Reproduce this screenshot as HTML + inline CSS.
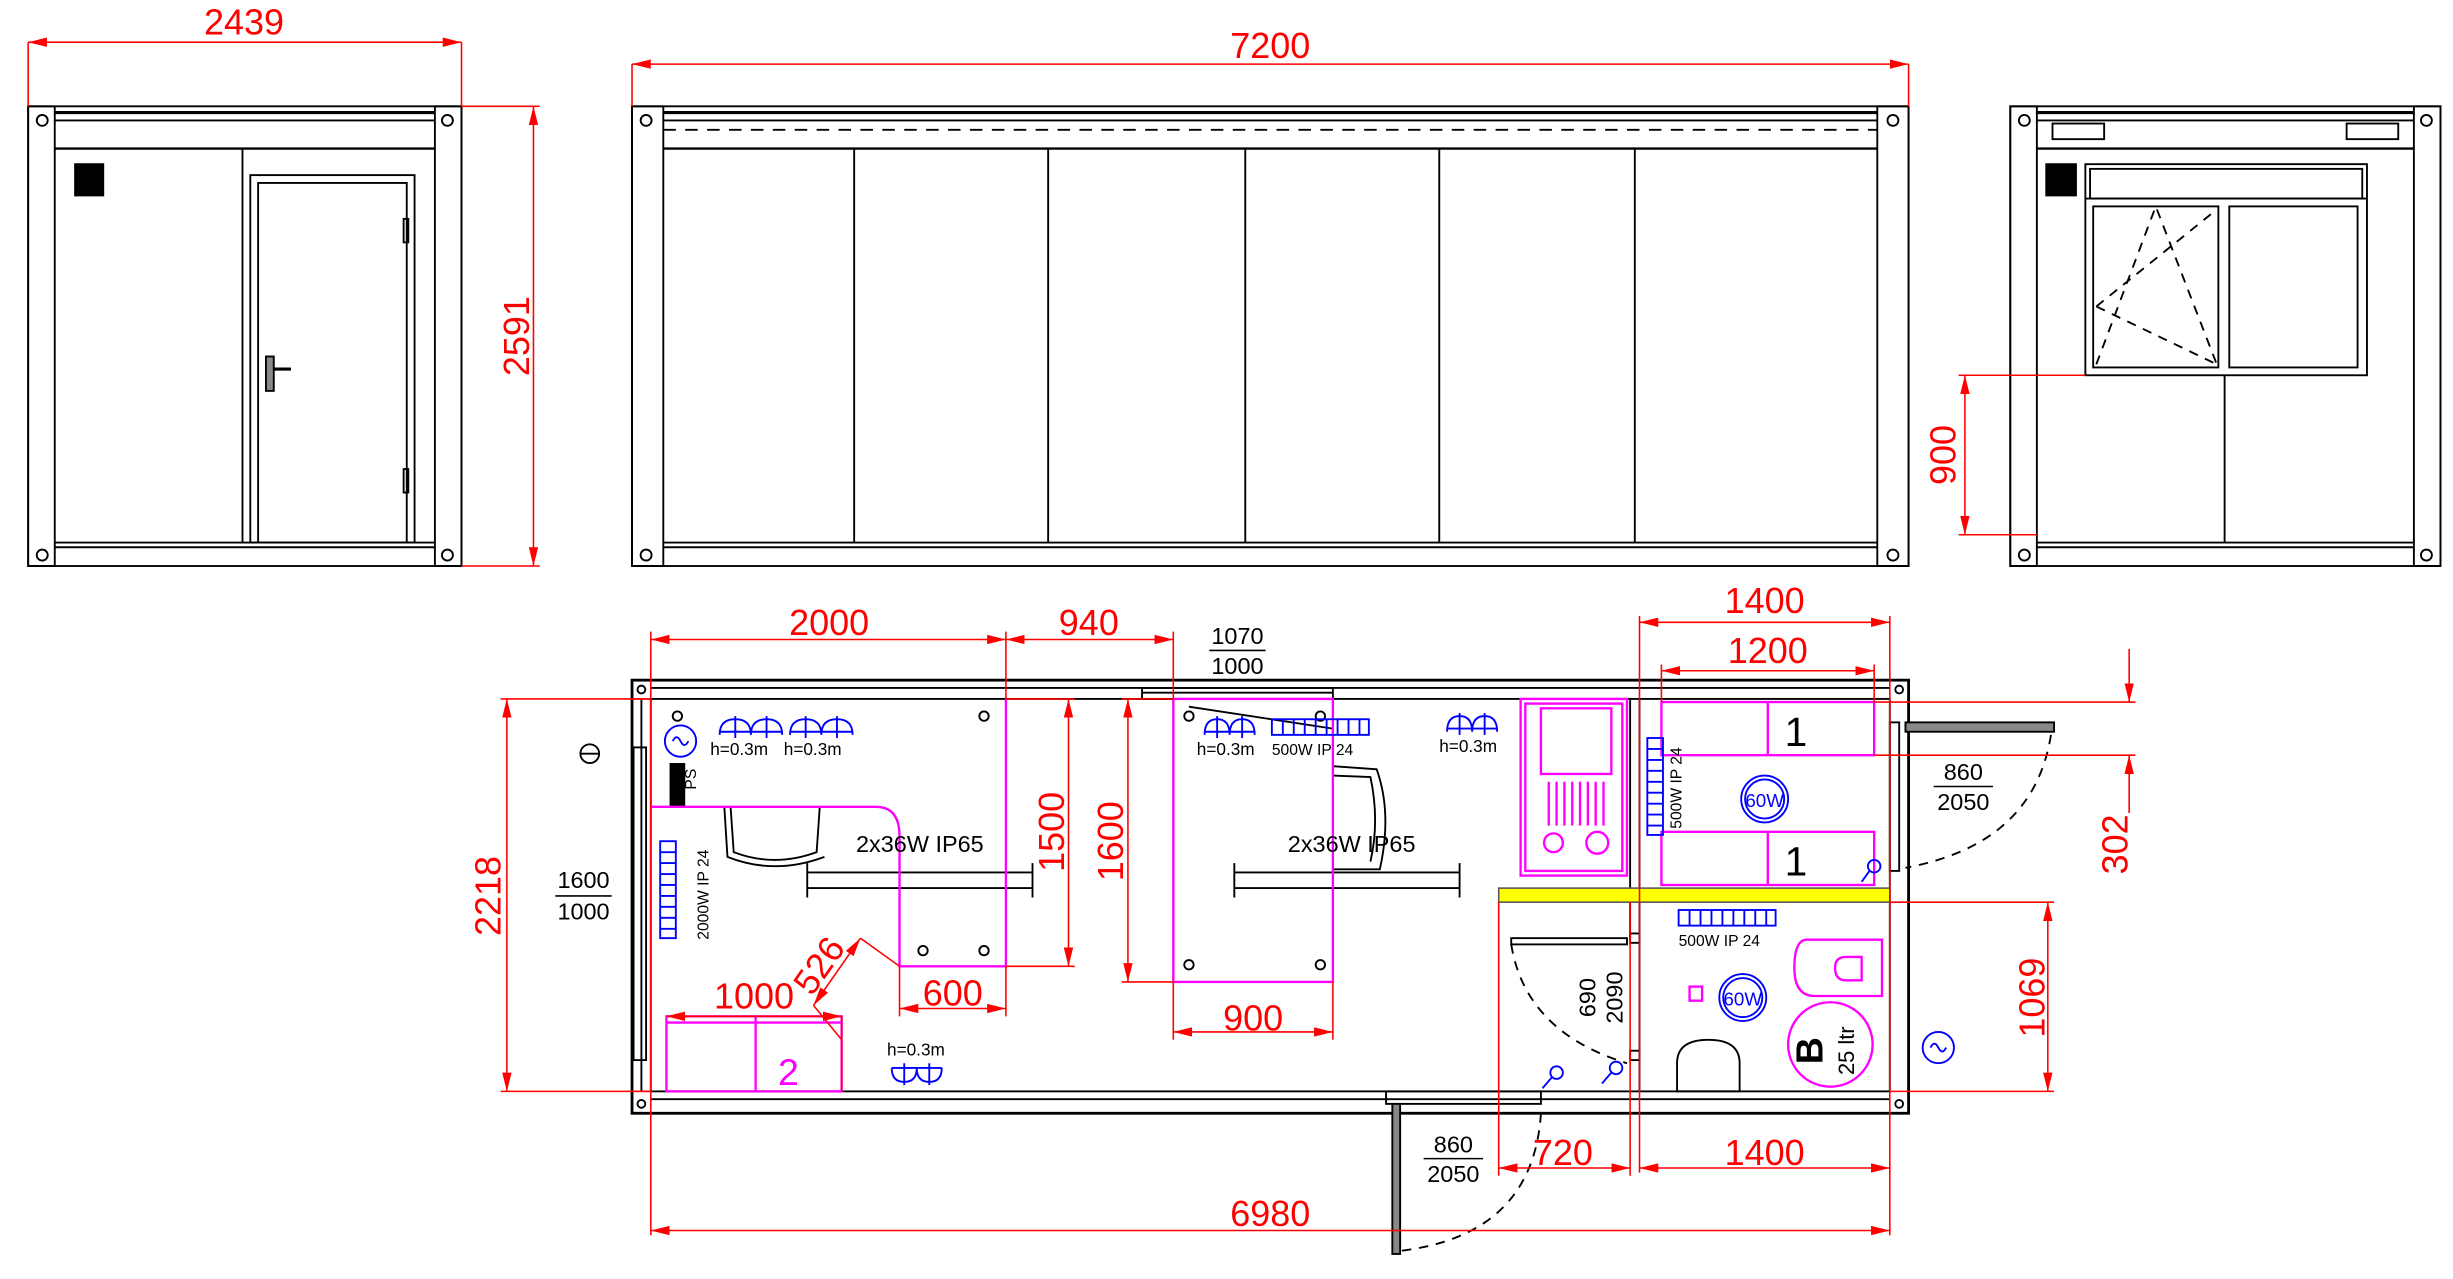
<!DOCTYPE html>
<html><head><meta charset="utf-8"><style>
html,body{margin:0;padding:0;background:#fff;width:2453px;height:1279px;overflow:hidden}
svg{display:block}
text{font-family:"Liberation Sans",sans-serif}
</style></head><body>
<svg width="2453" height="1279" viewBox="0 0 1568 818" preserveAspectRatio="none" xmlns="http://www.w3.org/2000/svg">
<defs>
<marker id="a" viewBox="0 0 12 6" refX="12" refY="3" markerWidth="12" markerHeight="6" markerUnits="userSpaceOnUse" orient="auto-start-reverse"><path d="M0,0L12,3L0,6Z" fill="#f00"/></marker>
</defs>
<g fill="none" stroke="#000" stroke-width="1.2">
<rect x="18" y="68" width="277" height="294"/>
<rect x="18" y="68" width="17" height="294"/><rect x="278" y="68" width="17" height="294"/>
<line x1="35" y1="72" x2="278" y2="72" stroke-width="2"/><line x1="35" y1="77" x2="278" y2="77"/>
<line x1="35" y1="95" x2="278" y2="95" stroke-width="1.5"/>
<line x1="35" y1="347" x2="278" y2="347"/><line x1="35" y1="350" x2="278" y2="350"/>
<line x1="155" y1="95" x2="155" y2="347"/>
<rect x="160" y="112" width="105" height="235"/><rect x="165" y="117" width="95" height="230"/>
<rect x="258" y="140" width="3" height="15"/><rect x="258" y="300" width="3" height="15"/>
<rect x="170" y="228" width="5" height="22" fill="#888"/><line x1="175" y1="236" x2="186" y2="236" stroke-width="2"/>
<rect x="48" y="105" width="18" height="20" fill="#000"/>
<circle cx="27" cy="77" r="3.5"/><circle cx="286" cy="77" r="3.5"/><circle cx="27" cy="355" r="3.5"/><circle cx="286" cy="355" r="3.5"/>
<rect x="404" y="68" width="816" height="294"/>
<rect x="404" y="68" width="20" height="294"/><rect x="1200" y="68" width="20" height="294"/>
<line x1="424" y1="72" x2="1200" y2="72" stroke-width="2"/><line x1="424" y1="77" x2="1200" y2="77"/>
<line x1="424" y1="83" x2="1200" y2="83" stroke-dasharray="8,6"/>
<line x1="424" y1="95" x2="1200" y2="95" stroke-width="1.5"/>
<line x1="424" y1="347" x2="1200" y2="347"/><line x1="424" y1="350" x2="1200" y2="350"/>
<line x1="546" y1="95" x2="546" y2="347"/><line x1="670" y1="95" x2="670" y2="347"/><line x1="796" y1="95" x2="796" y2="347"/><line x1="920" y1="95" x2="920" y2="347"/><line x1="1045" y1="95" x2="1045" y2="347"/>
<circle cx="413" cy="77" r="3.5"/><circle cx="1210" cy="77" r="3.5"/><circle cx="413" cy="355" r="3.5"/><circle cx="1210" cy="355" r="3.5"/>
<rect x="1285" y="68" width="275" height="294"/>
<rect x="1285" y="68" width="17" height="294"/><rect x="1543" y="68" width="17" height="294"/>
<line x1="1302" y1="72" x2="1543" y2="72" stroke-width="2"/><line x1="1302" y1="77" x2="1543" y2="77"/>
<line x1="1302" y1="95" x2="1543" y2="95" stroke-width="1.5"/>
<rect x="1312" y="79" width="33" height="10"/><rect x="1500" y="79" width="33" height="10"/>
<rect x="1308" y="105" width="19" height="20" fill="#000"/>
<rect x="1333" y="105" width="180" height="135"/><rect x="1336" y="108" width="174" height="19"/>
<line x1="1333" y1="127" x2="1513" y2="127"/>
<rect x="1338" y="132" width="80" height="103"/><rect x="1425" y="132" width="82" height="103"/>
<path d="M1340,233L1378,132L1417,233M1340,196L1417,134M1340,196L1417,233" stroke-dasharray="6,5"/>
<line x1="1422" y1="240" x2="1422" y2="347"/>
<line x1="1302" y1="347" x2="1543" y2="347"/><line x1="1302" y1="350" x2="1543" y2="350"/>
<circle cx="1294" cy="77" r="3.5"/><circle cx="1551" cy="77" r="3.5"/><circle cx="1294" cy="355" r="3.5"/><circle cx="1551" cy="355" r="3.5"/>
<rect x="404" y="435" width="816" height="277" stroke-width="1.8"/>
<rect x="416" y="447" width="792" height="251"/>
<line x1="416" y1="440" x2="1208" y2="440"/><line x1="416" y1="703" x2="1208" y2="703"/>
<line x1="410" y1="447" x2="410" y2="698"/>
<rect x="730" y="440" width="122" height="7"/>
<line x1="730" y1="443" x2="852" y2="443"/>
<line x1="760" y1="452" x2="852" y2="466"/>
<circle cx="410" cy="441" r="2.5"/><circle cx="1214" cy="441" r="2.5"/><circle cx="410" cy="706" r="2.5"/><circle cx="1214" cy="706" r="2.5"/>
<line x1="1048" y1="447" x2="1048" y2="568"/><line x1="1042" y1="447" x2="1042" y2="568"/>
<line x1="1042" y1="577" x2="1042" y2="600"/><line x1="1048" y1="577" x2="1048" y2="698"/>
<rect x="1042" y="597" width="6" height="6"/><rect x="1042" y="672" width="6" height="6"/>
<rect x="966" y="600" width="74" height="4"/>
<path d="M966,604 Q975,660 1040,680" stroke-dasharray="6,5"/>
<rect x="1208" y="462" width="6" height="95"/>
<rect x="1218" y="462" width="95" height="6" fill="#888"/>
<path d="M1311,470 Q1300,540 1218,555" stroke-dasharray="6,5"/>
<rect x="886" y="698" width="99" height="8"/>
<rect x="890" y="706" width="5" height="96" fill="#888"/>
<path d="M985,712 Q980,790 895,800" stroke-dasharray="6,5"/>
<rect x="405" y="478" width="8" height="200"/>
<path d="M467,516L469,545Q495,555 522,545L524,516M463,516L465,548Q495,560 527,548"/>
<path d="M852,490L880,492Q890,520 882,556L852,556M852,496L876,497Q882,525 876,551"/>
<path d="M516,558H660M516,568H660M516,552V574M660,552V574"/>
<path d="M789,558H933M789,568H933M789,552V574M933,552V574"/>
<circle cx="629" cy="458" r="3"/><circle cx="590" cy="608" r="3"/><circle cx="629" cy="608" r="3"/>
<circle cx="760" cy="458" r="3"/><circle cx="844" cy="458" r="3"/><circle cx="760" cy="617" r="3"/><circle cx="844" cy="617" r="3"/>
<circle cx="433" cy="458" r="3"/>
<path d="M1072,698V680Q1072,665 1092,665Q1112,665 1112,680V698Z"/>
<circle cx="377" cy="482" r="6"/><line x1="371" y1="482" x2="383" y2="482"/>
</g>
<rect x="428" y="488" width="10" height="28" fill="#000"/>
<text x="440" y="510" font-size="10" transform="rotate(-90 440 505)">PS</text>
<rect x="958" y="568" width="250" height="9" fill="#ff0" stroke="#555" stroke-width="1"/>
<g fill="none" stroke="#f0f" stroke-width="1.5">
<path d="M416,516H560Q575,516 575,535V618H643V447"/>
<rect x="750" y="447" width="102" height="181"/>
<rect x="972" y="447" width="68" height="113"/><rect x="975" y="450" width="62" height="107"/>
<rect x="985" y="453" width="45" height="42"/>
<path d="M990,500V528M995,500V528M1000,500V528M1005,500V528M1010,500V528M1015,500V528M1020,500V528M1025,500V528"/>
<circle cx="993" cy="539" r="6"/><circle cx="1021" cy="539" r="7"/>
<rect x="1062" y="449" width="136" height="34"/><line x1="1130" y1="449" x2="1130" y2="483"/>
<rect x="1062" y="532" width="136" height="34"/><line x1="1130" y1="532" x2="1130" y2="566"/>
<rect x="426" y="650" width="112" height="48"/><line x1="426" y1="654" x2="538" y2="654"/><line x1="483" y1="650" x2="483" y2="698"/>
<path d="M1203,601H1155Q1147,601 1147,619Q1147,637 1160,637H1203Z"/>
<path d="M1190,612H1180Q1173,612 1173,619Q1173,627 1180,627H1190Z"/>
<circle cx="1170" cy="668" r="27"/>
<rect x="1080" y="631" width="8" height="9"/>
</g>
<text x="504" y="694" font-size="24" fill="#f0f" text-anchor="middle">2</text>
<g fill="none" stroke="#00f" stroke-width="1.2">
<circle cx="435" cy="474" r="10"/><path d="M430,474q2.5,-5 5,0t5,0"/>
<path d="M460,470q0,-10 10,-10q10,0 10,10q0,-10 10,-10q10,0 10,10M470,458V472M490,458V472M460,468H500"/>
<path d="M507,470q0,-10 10,-10q10,0 10,10q0,-10 10,-10q10,0 10,10M517,458V472M537,458V472M507,468H547" transform="translate(-2,0) scale(1)"/>
<path d="M770,470q0,-10 8,-10q8,0 8,10q0,-10 8,-10q8,0 8,10M778,458V472M794,458V472M770,468H802"/>
<path d="M925,468q0,-10 8,-10q8,0 8,10q0,-10 8,-10q8,0 8,10M933,456V470M949,456V470M925,466H957"/>
<path d="M570,683q0,9 8,9q8,0 8,-9q0,9 8,9q8,0 8,-9M578,680V694M594,680V694M570,683H602"/>
<rect x="813" y="460" width="62" height="10"/><path d="M820,460V470M827,460V470M834,460V470M841,460V470M848,460V470M855,460V470M862,460V470M869,460V470"/>
<rect x="422" y="538" width="10" height="62"/><path d="M422,545H432M422,552H432M422,559H432M422,566H432M422,573H432M422,580H432M422,587H432M422,594H432"/>
<rect x="1053" y="472" width="10" height="62"/><path d="M1053,479H1063M1053,486H1063M1053,493H1063M1053,500H1063M1053,507H1063M1053,514H1063M1053,521H1063M1053,528H1063"/>
<rect x="1073" y="582" width="62" height="10"/><path d="M1080,582V592M1087,582V592M1094,582V592M1101,582V592M1108,582V592M1115,582V592M1122,582V592M1129,582V592"/>
<circle cx="1128" cy="511" r="15"/><circle cx="1128" cy="511" r="12.5"/>
<circle cx="1114" cy="638" r="15"/><circle cx="1114" cy="638" r="12.5"/>
<circle cx="1239" cy="670" r="10"/><path d="M1234,670q2.5,-5 5,0t5,0"/>
<circle cx="1198" cy="554" r="4"/><line x1="1195" y1="557" x2="1190" y2="564"/>
<circle cx="995" cy="686" r="4"/><line x1="992" y1="689" x2="986" y2="696"/>
<circle cx="1033" cy="683" r="4"/><line x1="1030" y1="686" x2="1024" y2="693"/>
</g>
<g fill="#00f" font-size="12" text-anchor="middle"><text x="1128" y="516">60W</text><text x="1114" y="643">60W</text></g>
<g font-size="11" fill="#000">
<text x="454" y="483">h=0.3m</text><text x="501" y="483">h=0.3m</text>
<text x="765" y="483">h=0.3m</text><text x="813" y="483" font-size="10">500W  IP 24</text>
<text x="920" y="481">h=0.3m</text><text x="567" y="675">h=0.3m</text>
<text x="1073" y="605" font-size="10">500W  IP 24</text>
<text x="453" y="601" font-size="10" transform="rotate(-90 453 601)">2000W  IP 24</text>
<text x="1075" y="530" font-size="10" transform="rotate(-90 1075 530)">500W  IP 24</text>
</g>
<g font-size="15" fill="#000" text-anchor="middle">
<text x="588" y="545">2x36W  IP65</text><text x="864" y="545">2x36W  IP65</text>
<text x="791" y="412">1070</text><text x="791" y="431">1000</text><line x1="773" y1="416" x2="809" y2="416" stroke="#000"/>
<text x="373" y="568">1600</text><text x="373" y="588">1000</text><line x1="355" y1="573" x2="391" y2="573" stroke="#000"/>
<text x="1255" y="499">860</text><text x="1255" y="518">2050</text><line x1="1236" y1="503" x2="1274" y2="503" stroke="#000"/>
<text x="929" y="737">860</text><text x="929" y="756">2050</text><line x1="910" y1="741" x2="948" y2="741" stroke="#000"/>
<text x="1020" y="638" transform="rotate(-90 1020 638)">690</text><text x="1037" y="638" transform="rotate(-90 1037 638)">2090</text>
</g>
<text x="1148" y="477" font-size="26" text-anchor="middle">1</text><text x="1148" y="560" font-size="26" text-anchor="middle">1</text>
<text x="1165" y="672" font-size="24" font-weight="bold" font-family="Liberation Serif" transform="rotate(-90 1165 672)" text-anchor="middle">B</text>
<text x="1185" y="672" font-size="14" transform="rotate(-90 1185 672)" text-anchor="middle">25 ltr</text>
<g stroke="#f00" stroke-width="1" fill="none">
<line x1="18" y1="27" x2="295" y2="27" marker-start="url(#a)" marker-end="url(#a)"/><path d="M18,27V68M295,27V68"/>
<line x1="341" y1="68" x2="341" y2="362" marker-start="url(#a)" marker-end="url(#a)"/><path d="M295,68H345M295,362H345"/>
<line x1="404" y1="41" x2="1220" y2="41" marker-start="url(#a)" marker-end="url(#a)"/><path d="M404,41V68M1220,41V68"/>
<line x1="1256" y1="240" x2="1256" y2="342" marker-start="url(#a)" marker-end="url(#a)"/><path d="M1252,240H1333M1252,342H1302"/>
<line x1="416" y1="409" x2="643" y2="409" marker-start="url(#a)" marker-end="url(#a)"/>
<line x1="643" y1="409" x2="750" y2="409" marker-start="url(#a)" marker-end="url(#a)"/>
<path d="M416,404V790M643,404V447M750,404V447"/>
<line x1="1048" y1="398" x2="1208" y2="398" marker-start="url(#a)" marker-end="url(#a)"/>
<line x1="1062" y1="429" x2="1198" y2="429" marker-start="url(#a)" marker-end="url(#a)"/>
<path d="M1048,394V750M1208,394V790M1062,425V449M1198,425V449"/>
<line x1="1361" y1="415" x2="1361" y2="449" marker-end="url(#a)"/>
<line x1="1361" y1="520" x2="1361" y2="483" marker-end="url(#a)"/>
<path d="M1198,449H1365M1198,483H1365"/>
<line x1="1309" y1="577" x2="1309" y2="698" marker-start="url(#a)" marker-end="url(#a)"/>
<path d="M1208,577H1313M1208,698H1313"/>
<line x1="324" y1="447" x2="324" y2="698" marker-start="url(#a)" marker-end="url(#a)"/>
<path d="M320,447H416M320,698H416"/>
<line x1="683" y1="447" x2="683" y2="618" marker-start="url(#a)" marker-end="url(#a)"/><path d="M643,447H687M643,618H687"/>
<line x1="721" y1="447" x2="721" y2="628" marker-start="url(#a)" marker-end="url(#a)"/><path d="M717,447H750M717,628H750"/>
<line x1="575" y1="645" x2="643" y2="645" marker-start="url(#a)" marker-end="url(#a)"/><path d="M575,618V650M643,618V650"/>
<line x1="750" y1="660" x2="852" y2="660" marker-start="url(#a)" marker-end="url(#a)"/><path d="M750,628V665M852,628V665"/>
<line x1="426" y1="650" x2="538" y2="650" marker-start="url(#a)" marker-end="url(#a)"/><path d="M538,650V698"/>
<line x1="520" y1="643" x2="550" y2="600" marker-start="url(#a)" marker-end="url(#a)"/><path d="M550,600L575,618M520,643L538,665"/>
<line x1="958" y1="747" x2="1042" y2="747" marker-start="url(#a)" marker-end="url(#a)"/><path d="M958,577V752M1042,577V752"/>
<line x1="1048" y1="747" x2="1208" y2="747" marker-start="url(#a)" marker-end="url(#a)"/>
<line x1="416" y1="787" x2="1208" y2="787" marker-start="url(#a)" marker-end="url(#a)"/>
<path d="M404,447H416M404,698H416"/>
</g>
<g fill="#f00" font-size="23" text-anchor="middle">
<text x="156" y="22">2439</text><text x="812" y="37">7200</text>
<text x="530" y="406">2000</text><text x="696" y="406">940</text>
<text x="1128" y="392">1400</text><text x="1130" y="424">1200</text>
<text x="482" y="645">1000</text><text x="609" y="643">600</text><text x="801" y="659">900</text>
<text x="999" y="745">720</text><text x="1128" y="745">1400</text><text x="812" y="784">6980</text>
<text x="338" y="215" transform="rotate(-90 338 215)">2591</text>
<text x="1250" y="291" transform="rotate(-90 1250 291)">900</text>
<text x="320" y="573" transform="rotate(-90 320 573)">2218</text>
<text x="680" y="532" transform="rotate(-90 680 532)">1500</text>
<text x="718" y="538" transform="rotate(-90 718 538)">1600</text>
<text x="1360" y="540" transform="rotate(-90 1360 540)">302</text>
<text x="1307" y="638" transform="rotate(-90 1307 638)">1069</text>
<text x="530" y="622" transform="rotate(-55 530 622)">526</text>
</g>
</svg>
</body></html>
